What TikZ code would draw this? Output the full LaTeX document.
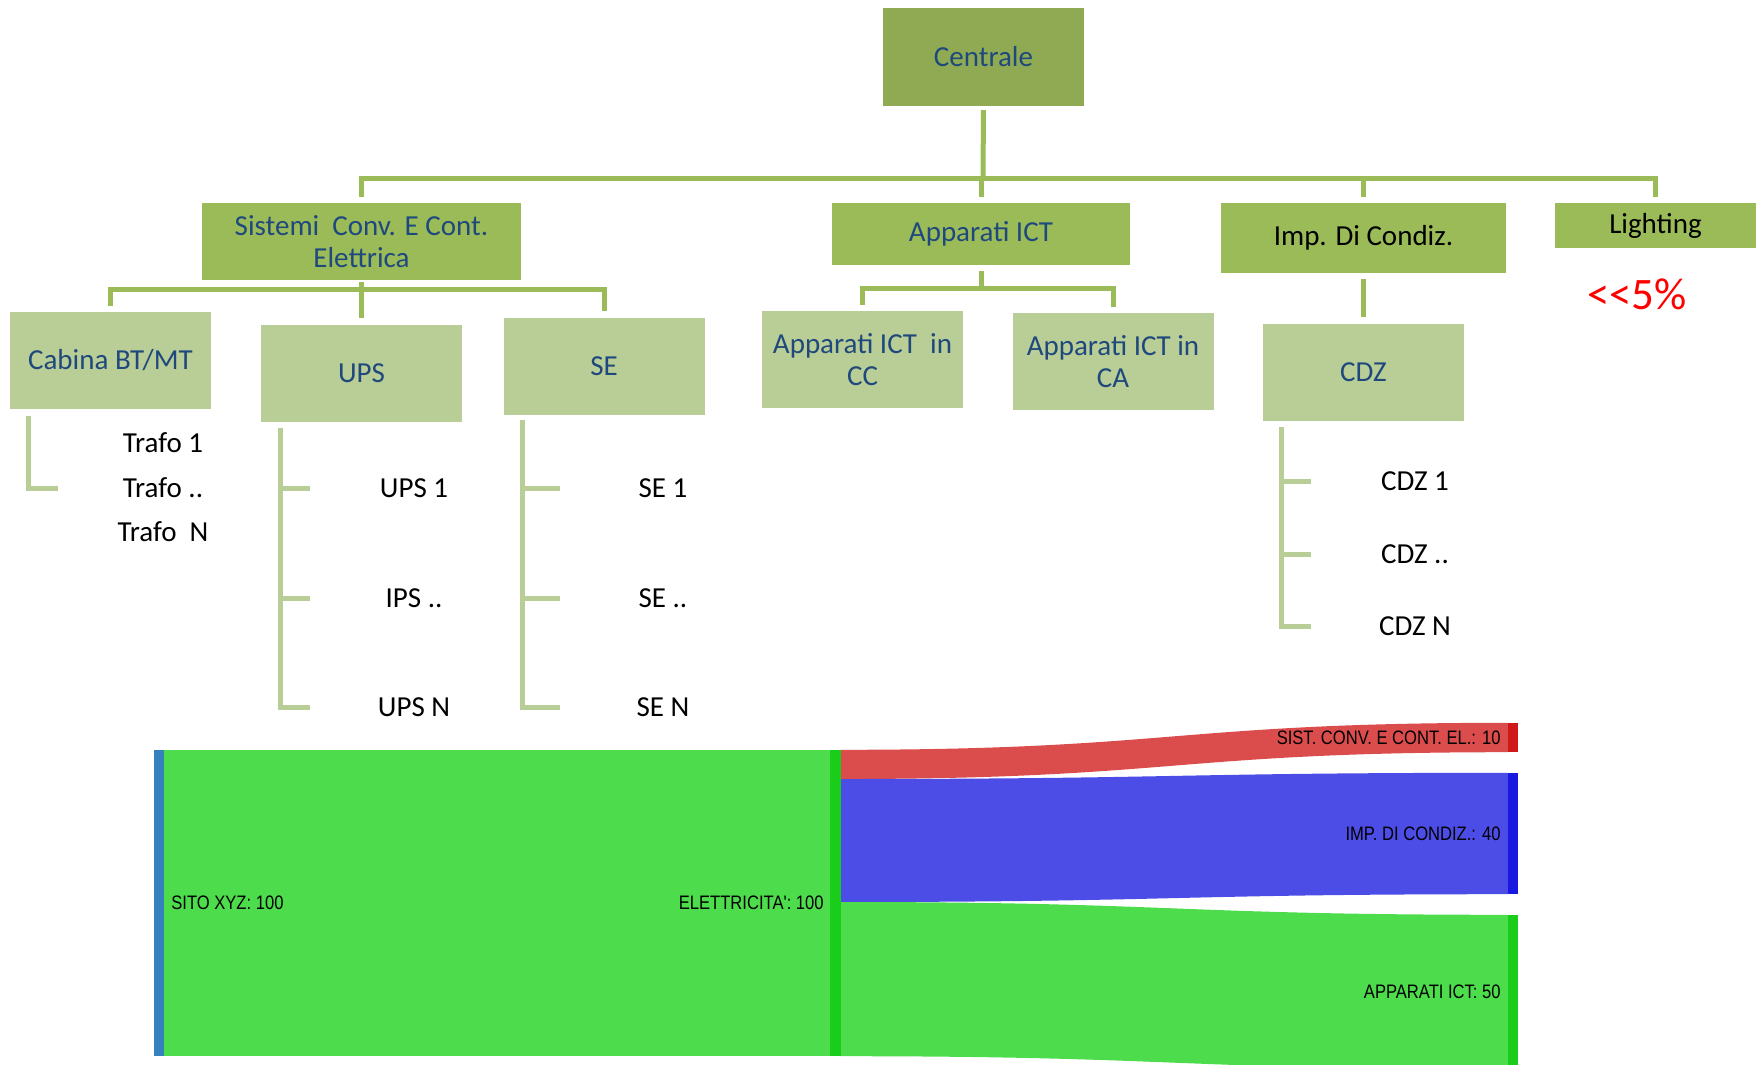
\documentclass[tikz,border=0pt]{standalone}
\usepackage{fontspec}
\setmainfont{Carlito}
\newfontfamily\chartfont[FakeStretch=0.85]{Liberation Sans}
\usetikzlibrary{positioning}
\definecolor{rootgreen}{RGB}{143, 170, 82}
\definecolor{branchgreen}{RGB}{155, 187, 89}
\definecolor{leafgreen}{RGB}{185, 205, 150}
\definecolor{boxblue}{RGB}{31, 73, 125}
\definecolor{sitoblue}{RGB}{54, 129, 189}
\definecolor{flowgreen}{RGB}{76, 220, 76}
\definecolor{bargreen}{RGB}{26, 205, 26}
\definecolor{flowred}{RGB}{219, 76, 76}
\definecolor{barred}{RGB}{208, 24, 24}
\definecolor{flowblue}{RGB}{76, 76, 230}
\definecolor{barblue}{RGB}{24, 24, 224}
\tikzstyle{tree_box}=[rectangle, inner sep=0pt, align=center, text=boxblue,
    font=\fontsize{29}{32}\selectfont]
\tikzstyle{tree_root}=[tree_box, fill=rootgreen, minimum width=201pt, minimum height=98pt]
\tikzstyle{tree_branch}=[tree_box, fill=branchgreen]
\tikzstyle{tree_leaf}=[tree_box, fill=leafgreen, minimum width=201pt, minimum height=97pt]
\tikzstyle{leaf_item}=[inner sep=0pt, font=\fontsize{29}{32}\selectfont]
\tikzstyle{tree_line}=[line width=5pt, draw=branchgreen]
\tikzstyle{leaf_line}=[line width=5pt, draw=leafgreen]
\tikzstyle{sankey_bar}=[rectangle, inner sep=0pt, minimum width=10pt]
\tikzstyle{sankey_label}=[inner sep=0pt, font=\chartfont\fontsize{19.5}{21}\selectfont]

\begin{document}
\begin{tikzpicture}[x=1pt, y=-1pt]
  \useasboundingbox (0,0) rectangle (1762,1065);

  % Top of the tree
  \node[tree_root] (centrale) at (983.5,57) {Centrale};

  % Second level
  \node[tree_branch, minimum width=319pt, minimum height=77pt] (sistemi) at (361.5,241.5) {Sistemi\ \ Conv. E Cont.\\Elettrica};
  \node[tree_branch, minimum width=298pt, minimum height=62pt] (apparati) at (981,234) {Apparati ICT};
  \node[tree_branch, minimum width=285pt, minimum height=70pt, text=black] (condiz) at (1363.5,238) {Imp. Di Condiz.};
  \node[tree_branch, minimum width=201pt, minimum height=45pt, text=black] (lighting) at (1655.5,225.5) {Lighting};
  \node[text=red, font=\fontsize{45}{48}\selectfont] (quota) at (1637,294) {<{}<5\%};

  % Third level
  \node[tree_leaf] (cabina) at (110.5,360.5) {Cabina BT/MT};
  \node[tree_leaf] (ups) at (361.5,373) {UPS};
  \node[tree_leaf] (se) at (604,366) {SE};
  \node[tree_leaf] (ict_cc) at (862.5,359.5) {Apparati ICT\ \ in\\CC};
  \node[tree_leaf] (ict_ca) at (1113,361.5) {Apparati ICT in\\CA};
  \node[tree_leaf] (cdz) at (1363.5,372) {CDZ};

  % Connectors from the top box
  \coordinate (bus) at (983,178);
  \draw[tree_line, shorten <=4pt] (centrale.south) -- (bus);
  \draw[tree_line, shorten <=6pt, shorten >=6pt] (sistemi.north) |- (bus) -| (lighting.north);
  \draw[tree_line, shorten >=6pt] (apparati.north |- bus) -- (apparati.north);
  \draw[tree_line, shorten >=6pt] (condiz.north |- bus) -- (condiz.north);

  % Connectors of the second level
  \coordinate (sis_bus) at (361.5,289);
  \draw[tree_line, shorten <=2pt] (sistemi.south) -- (sis_bus);
  \draw[tree_line, shorten <=6pt, shorten >=6pt] (cabina.north) |- (sis_bus) -| (se.north);
  \draw[tree_line, shorten >=6pt] (sis_bus) -- (ups.north);
  \coordinate (ict_bus) at (981,288);
  \draw[tree_line, shorten <=6pt] (apparati.south) -- (ict_bus);
  \draw[tree_line, shorten <=6pt, shorten >=6pt] (ict_cc.north) |- (ict_bus) -| (ict_ca.north);
  \draw[tree_line, shorten <=6pt, shorten >=6pt] (condiz.south) -- (cdz.north);

  % Lists under the boxes
  \coordinate (cabina_spine) at (28,416);
  \foreach \i/\name/\y in {1/Trafo 1/443, 2/Trafo ../488, 3/Trafo\ \ N/532} {
      \node[leaf_item] (trafo\i) at (163,\y) {\name};
  }
  \coordinate (cabina_tick) at (58,488);
  \draw[leaf_line] (cabina_spine) |- (cabina_tick);

  \coordinate (ups_spine) at (280,428);
  \foreach \i/\name/\y in {1/UPS 1/488, 2/IPS ../598, 3/UPS N/707} {
      \node[leaf_item] (ups\i) at (414,\y) {\name};
      \coordinate (ups_tick\i) at (310,\y);
      \draw[leaf_line] (ups_spine) |- (ups_tick\i);
  }

  \coordinate (se_spine) at (522,420);
  \foreach \i/\name/\y in {1/SE 1/488, 2/SE ../598, 3/SE N/707} {
      \node[leaf_item] (se\i) at (663,\y) {\name};
      \coordinate (se_tick\i) at (560,\y);
      \draw[leaf_line] (se_spine) |- (se_tick\i);
  }

  \coordinate (cdz_spine) at (1281,427);
  \foreach \i/\name/\y in {1/CDZ 1/481, 2/CDZ ../554, 3/CDZ N/626} {
      \node[leaf_item] (cdz\i) at (1415,\y) {\name};
      \coordinate (cdz_tick\i) at (1311,\y);
      \draw[leaf_line] (cdz_spine) |- (cdz_tick\i);
  }

  % Sankey bars
  \node[sankey_bar, fill=sitoblue, minimum height=306pt] (sito_bar) at (159,903) {};
  \node[sankey_bar, fill=bargreen, minimum width=11pt, minimum height=306pt] (elec_bar) at (835.5,903) {};
  \node[sankey_bar, fill=barred, minimum height=29pt] (sist_bar) at (1513,737.5) {};
  \node[sankey_bar, fill=barblue, minimum height=121pt] (imp_bar) at (1513,833.5) {};
  \node[sankey_bar, fill=bargreen, minimum height=154pt] (ict_bar) at (1513,992) {};

  % Sankey flows
  \fill[flowgreen] (sito_bar.north east) rectangle (elec_bar.south west);
  \coordinate (elec_out1) at (841,779);
  \coordinate (elec_out2) at (841,902);
  \fill[flowred] (elec_bar.north east) .. controls +(333,0) and +(-333,0) .. (sist_bar.north west)
      -- (sist_bar.south west) .. controls +(-333,0) and +(333,0) .. (elec_out1) -- cycle;
  \fill[flowblue] (elec_out1) .. controls +(333,0) and +(-333,0) .. (imp_bar.north west)
      -- (imp_bar.south west) .. controls +(-333,0) and +(333,0) .. (elec_out2) -- cycle;
  \fill[flowgreen] (elec_out2) .. controls +(333,0) and +(-333,0) .. (ict_bar.north west)
      -- (ict_bar.south west) .. controls +(-333,0) and +(333,0) .. (elec_bar.south east) -- cycle;

  % Sankey labels
  \node[sankey_label, right=7pt of sito_bar] (sito_label) {SITO XYZ: 100};
  \node[sankey_label, left=6pt of elec_bar] (elec_label) {ELETTRICITA': 100};
  \node[sankey_label, left=7pt of sist_bar] (sist_label) {SIST. CONV. E CONT. EL.: 10};
  \node[sankey_label, left=7pt of imp_bar] (imp_label) {IMP. DI CONDIZ.: 40};
  \node[sankey_label, left=7pt of ict_bar] (ict_label) {APPARATI ICT: 50};

\end{tikzpicture}
\end{document}
